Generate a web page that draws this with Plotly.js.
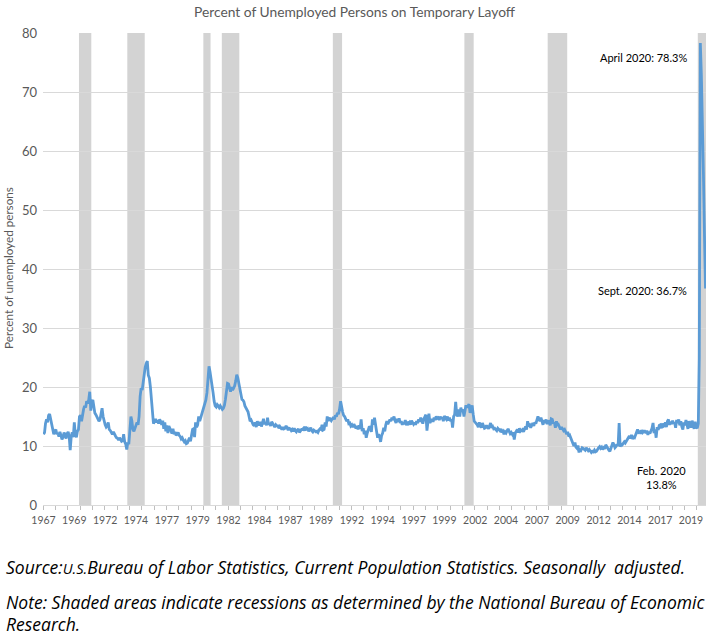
<!DOCTYPE html>
<html><head><meta charset="utf-8">
<script src="https://cdn.plot.ly/plotly-3.0.1.min.js"></script>
<style>html,body{margin:0;padding:0;background:#fff;}#chart{width:709px;height:635px;}</style>
</head><body><div id="chart"></div>
<script>
// Monthly values (percent of unemployed on temporary layoff), starting Jan 1967
const START_YEAR = 1967;
const values1967to1969 = [
 12.0,12.3,13.8,14.5,14.0,15.2,15.4,14.5,13.6,12.8,12.0,12.5,
 12.8,12.0,12.2,11.6,12.4,11.8,11.1,11.5,12.3,11.7,11.3,12.1,
 12.4,11.5,9.3,11.6,12.3,11.5,14.0,11.8,11.5,12.5,12.8,15.0];
const values1970s = [
 15.2,14.2,15.6,16.2,16.8,16.5,17.6,17.2,17.8,19.2,16.0,17.5,
 17.8,16.2,15.6,15.3,15.0,14.6,14.2,14.5,15.6,16.4,15.0,14.2,
 13.6,13.2,13.4,14.0,12.8,12.6,12.2,12.0,12.4,11.9,11.7,11.4,
 11.3,11.0,11.4,11.1,10.8,10.9,12.0,10.7,10.3,9.4,10.6,10.3,
 12.5,15.0,14.3,12.8,12.5,13.0,13.5,14.0,13.6,15.0,18.4,19.8,
 19.5,21.2,22.5,23.4,24.0,24.4,22.0,21.5,20.0,17.5,15.5,13.8,
 14.2,14.6,14.0,14.4,13.8,14.5,14.2,13.6,14.3,12.9,14.0,12.5,
 13.5,12.2,13.4,12.8,12.6,12.1,12.9,12.0,12.4,11.8,12.0,12.3,
 11.8,11.6,11.2,11.4,11.0,10.7,10.9,10.4,10.5,11.2,11.4,10.8,
 11.6,12.8,12.9,11.5,14.0,13.2,13.6,15.0,14.2,14.8,15.6,16.2];
const values1980s = [
 16.8,17.6,17.8,19.0,22.0,23.5,22.6,21.0,20.5,19.0,17.6,16.8,
 16.6,17.0,16.8,16.5,16.8,16.4,16.2,16.4,16.9,17.9,19.2,20.6,
 20.5,19.4,19.2,20.0,19.5,19.8,20.2,21.0,22.1,21.6,20.8,19.6,
 19.0,17.9,17.8,17.5,16.8,16.5,16.2,15.8,15.0,14.2,14.4,13.9,
 13.6,13.4,14.0,13.2,14.2,13.8,13.5,14.1,13.3,13.9,14.6,13.7,
 14.0,13.5,14.8,13.6,13.9,13.4,14.1,13.8,13.5,13.2,13.6,13.4,
 13.4,13.0,13.3,13.1,12.8,13.2,12.9,13.0,13.4,13.1,12.7,13.0,
 12.9,12.6,12.8,12.5,13.0,12.6,12.4,12.7,12.9,12.3,12.6,12.8,
 12.8,13.0,12.6,13.3,12.7,12.9,12.5,12.8,13.1,12.6,12.4,12.7,
 12.6,12.4,12.5,12.3,12.7,12.9,12.8,13.6,12.7,12.8,14.0,13.3];
const values1990s = [
 15.0,14.2,14.8,14.5,14.3,14.6,14.9,14.5,15.2,15.0,15.6,15.4,
 16.2,17.6,16.4,15.8,15.2,15.0,14.6,14.2,14.5,13.8,13.9,13.4,
 13.6,13.2,13.7,13.3,13.0,13.4,12.8,13.5,12.9,14.5,12.5,13.0,
 12.0,12.6,11.4,12.2,12.7,13.3,13.1,12.4,14.5,13.6,14.8,13.2,
 12.5,11.4,12.0,11.6,10.7,11.8,12.2,13.1,12.5,13.6,14.2,13.7,
 14.0,14.5,14.2,14.8,14.4,15.0,14.3,13.9,14.6,14.1,14.7,13.9,
 14.2,13.6,14.0,13.7,14.4,13.5,14.1,13.8,14.0,13.6,14.3,13.9,
 13.7,14.0,13.6,14.2,13.9,14.5,14.1,14.8,14.4,13.8,14.6,15.0,
 15.3,12.6,14.8,15.5,13.9,14.2,14.6,14.1,14.8,14.4,15.0,14.7,
 14.8,14.4,15.0,14.6,14.9,14.2,15.1,14.7,14.5,15.0,14.3,14.8];
const values2000s = [
 14.2,14.5,13.1,15.0,15.3,17.5,15.4,15.0,16.2,15.0,16.5,15.8,
 16.2,15.0,16.3,16.9,16.5,16.8,17.1,15.6,16.4,16.9,15.4,14.2,
 14.0,13.8,13.6,13.2,14.0,13.5,13.1,13.9,13.4,13.0,13.1,13.5,
 13.2,12.9,13.4,13.9,13.1,13.3,12.9,13.0,12.8,12.6,13.0,12.7,
 12.6,12.9,12.3,12.5,12.0,12.4,12.2,12.6,12.9,12.5,12.1,12.3,
 12.0,12.3,11.1,12.2,12.6,12.8,12.3,13.0,12.5,12.7,12.8,12.4,
 12.9,13.3,12.8,14.2,13.5,13.6,13.1,13.7,13.9,13.4,14.0,13.8,
 14.3,15.0,14.6,14.2,14.8,14.0,13.6,14.4,13.9,14.5,13.7,14.3,
 14.1,13.5,14.6,14.5,13.8,14.0,13.1,14.2,13.4,13.6,13.0,12.8,
 13.2,12.9,12.6,12.8,12.5,12.0,12.4,11.6,11.8,11.3,10.8,10.5];
const values2010s = [
 10.0,10.6,9.8,9.6,10.1,8.9,9.5,9.3,9.7,9.6,9.4,9.3,
 9.7,9.5,9.2,9.4,9.0,8.9,9.1,9.0,9.3,9.0,9.1,9.5,
 9.7,9.9,9.6,9.8,9.4,9.7,9.5,10.2,9.8,9.6,9.3,9.1,
 9.6,10.0,10.6,10.2,9.7,9.9,10.3,10.0,13.9,9.9,10.3,10.2,
 10.4,10.7,10.5,10.8,11.0,11.5,11.7,11.3,11.9,11.2,11.5,11.4,
 11.8,12.2,12.8,12.3,12.4,12.1,12.7,12.3,12.5,12.5,12.2,12.6,
 11.9,12.4,12.1,12.6,13.0,13.9,12.2,12.8,11.4,13.2,12.7,13.5,
 13.6,13.0,13.8,13.3,13.4,14.0,13.2,14.2,14.5,13.6,14.1,13.7,
 14.3,13.8,14.0,13.1,14.4,13.9,14.5,13.5,14.2,13.3,12.8,14.0,
 13.5,14.4,13.4,12.9,14.2,13.8,13.1,14.3,13.7,12.9,14.1,13.2];
const values2020 = [13.0,13.8,24.9,78.3,73.0,59.9,56.4,45.9,36.7];

// NBER recessions (first and last month)
const recessionStart = ['1969-12','1973-11','1980-01','1981-07','1990-07','2001-03','2007-12','2020-02'];
const recessionEnd   = ['1970-11','1975-03','1980-07','1982-11','1991-03','2001-11','2009-06','2020-09'];

// Category-axis labels, one every 30 months from Jan 1967
const tickLabels = ['1967','1969','1972','1974','1977','1979','1982','1984','1987','1989','1992',
  '1994','1997','1999','2002','2004','2007','2009','2012','2014','2017','2019'];

const TITLE = 'Percent of Unemployed Persons on Temporary Layoff';
const Y_TITLE = 'Percent of unemployed persons';

// ---- build ----
const values = [].concat(values1967to1969, values1970s, values1980s, values1990s, values2000s, values2010s, values2020);
function monthDate(i){
  const d = new Date(Date.UTC(START_YEAR, i, 1));
  return d.toISOString().slice(0,10);
}
function shiftDays(str, days){
  const d = new Date(str + (str.length===7?'-01':'') + 'T00:00:00Z');
  d.setUTCDate(d.getUTCDate()+days);
  return d.toISOString().slice(0,19).replace('T',' ');
}
function monthEnd(str){
  const [y,m] = str.split('-').map(Number);
  const d = new Date(Date.UTC(y, m-1, 1));
  d.setUTCMonth(d.getUTCMonth()+1);
  d.setUTCDate(d.getUTCDate()-15);
  return d.toISOString().slice(0,19).replace('T',' ');
}
const dates = values.map((v,i)=>monthDate(i));
const tickvals = tickLabels.map((t,k)=>monthDate(30*k));
const xStart = shiftDays(monthDate(0), -15);
const xEnd = shiftDays(dates[dates.length-1], 15);

const W = 709, H = 635;
const M = {l:43, r:3, t:33, b:130};
const plotW = W - M.l - M.r, plotH = H - M.t - M.b;
const px = x => (x - M.l)/plotW;
const py = y => (H - M.b - y)/plotH;

const shapes = recessionStart.map((s,i)=>({
  type:'rect', layer:'between', xref:'x', yref:'paper',
  x0: shiftDays(s, -15), x1: (i===recessionStart.length-1) ? xEnd : monthEnd(recessionEnd[i]),
  y0:0, y1:1, fillcolor:'#d3d3d3', line:{width:0}
}));

const grey = '#595959';
const fam = 'Lato, "Open Sans", sans-serif';
const footFam = '"Open Sans", Lato, sans-serif';

const trace = {
  x: dates, y: values, type:'scatter', mode:'lines',
  line:{color:'#5b9bd5', width:2.8}, hoverinfo:'x+y'
};

const layout = {
  width:W, height:H, margin:M, paper_bgcolor:'#fff', plot_bgcolor:'#fff',
  showlegend:false,
  title:{text:TITLE, font:{family:fam, size:13.8, color:grey}, x:0.5, xref:'container', xanchor:'center',
         y:1-12/H, yref:'container', yanchor:'middle'},
  xaxis:{type:'date', range:[xStart, xEnd], tickmode:'array', tickvals:tickvals, ticktext:tickLabels,
         ticks:'', showgrid:false, zeroline:false, showline:true, linecolor:'#d9d9d9', linewidth:1,
         tickfont:{family:fam, size:10.5, color:grey}, ticklabelstandoff:5,
         minor:{tickmode:'linear', tick0:xStart, dtick:'M12', ticks:'outside', ticklen:4, tickcolor:'#bfbfbf', tickwidth:1, showgrid:false}},
  yaxis:{range:[0,80], tickmode:'linear', tick0:0, dtick:10, showgrid:true, gridcolor:'#d9d9d9', gridwidth:1,
         zeroline:false, showline:false, ticks:'', tickfont:{family:fam, size:13, color:grey}, ticklabelstandoff:5},
  shapes:shapes,
  annotations:[
    {text:Y_TITLE, textangle:-90, xref:'paper', yref:'paper', x:px(8), y:py(268), xanchor:'center', yanchor:'middle',
     showarrow:false, font:{family:fam, size:11.7, color:grey}},
    {text:'April 2020: 78.3%', xref:'paper', yref:'paper', x:px(689), y:py(58), xanchor:'right', yanchor:'middle',
     showarrow:false, font:{family:fam, size:11, color:'#000'}},
    {text:'Sept. 2020: 36.7%', xref:'paper', yref:'paper', x:px(689), y:py(290), xanchor:'right', yanchor:'middle',
     showarrow:false, font:{family:fam, size:11, color:'#000'}},
    {text:'Feb. 2020<br>13.8%', xref:'paper', yref:'paper', x:px(661), y:py(477), xanchor:'center', yanchor:'middle',
     showarrow:false, align:'center', font:{family:fam, size:11, color:'#000'}},
    {text:'<i>Source:<span style="font-size:14.5px">U.S.</span>Bureau of Labor Statistics, Current Population Statistics. Seasonally  adjusted.</i>',
     xref:'paper', yref:'paper', x:px(4), y:py(567), xanchor:'left', yanchor:'middle',
     showarrow:false, align:'left', font:{family:footFam, size:17.5, color:'#000'}},
    {text:'<i>Note: Shaded areas indicate recessions as determined by the National Bureau of Economic</i>',
     xref:'paper', yref:'paper', x:px(4), y:py(602), xanchor:'left', yanchor:'middle',
     showarrow:false, align:'left', font:{family:footFam, size:17.5, color:'#000'}},
    {text:'<i>Research.</i>',
     xref:'paper', yref:'paper', x:px(4), y:py(624), xanchor:'left', yanchor:'middle',
     showarrow:false, align:'left', font:{family:footFam, size:17.5, color:'#000'}}
  ]
};

Plotly.newPlot('chart', [trace], layout, {displayModeBar:false, staticPlot:true});
</script>
</body></html>
